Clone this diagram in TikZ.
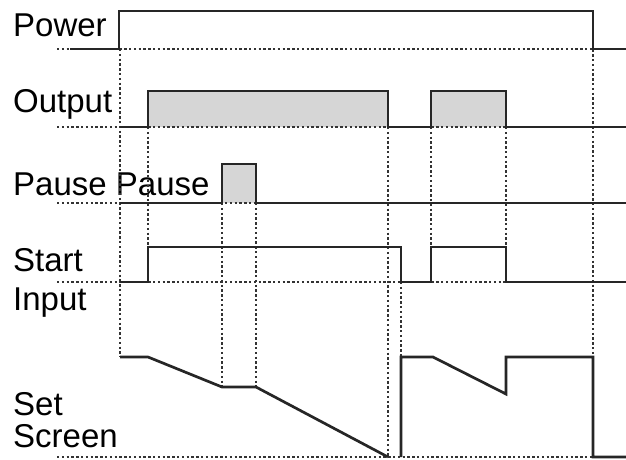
\documentclass[tikz,border=0pt]{standalone}
\usepackage{fontspec}
\setmainfont{Liberation Sans}
\begin{document}
\begin{tikzpicture}[x=1pt, y=-1pt,
        sig/.style={line width=2.7pt, black!85},
        guide/.style={line width=2.3pt, black!80, dash pattern=on 2.3pt off 2.5pt},
        pulse/.style={fill=black!16},
        lbl/.style={anchor=base west, inner sep=0pt, align=left, font=\fontsize{33}{39}\selectfont}
    ]
        \useasboundingbox (0,0) rectangle (626,459);
        % labels
        \node (power) [lbl] at (13,36) {Power};
        \node (output) [lbl] at (13,112) {Output};
        \node (pause) [lbl] at (13,195) {Pause Pause};
        \node (start) [lbl] at (13,310) {Start\\Input};
        \node (setscr) [lbl, font=\fontsize{33}{32}\selectfont] at (13,447) {Set\\Screen};
        % pulse fills
        \fill[pulse] (148,127) rectangle (388,91);
        \fill[pulse] (431,127) rectangle (506,91);
        \fill[pulse] (222,203) rectangle (256,164);
        % dotted base lines
        \foreach \y in {49,127,203,282,457}
            \draw[guide] (57,\y) -- (626,\y);
        % dotted time marks
        \draw[guide] (120,49) -- (120,357);
        \draw[guide] (148,127) -- (148,282);
        \draw[guide] (222,203) -- (222,387);
        \draw[guide] (256,203) -- (256,387);
        \draw[guide] (388,127) -- (388,457);
        \draw[guide] (401,282) -- (401,357);
        \draw[guide] (431,127) -- (431,247);
        \draw[guide] (506,127) -- (506,247);
        \draw[guide] (593,11) -- (593,357);
        % signals
        \draw[sig] (70,49) -- (119,49) -- (119,11) -- (593,11) -- (593,49) -- (626,49);
        \draw[sig] (120,127) -- (148,127) -- (148,91) -- (388,91) -- (388,127)
            -- (431,127) -- (431,91) -- (506,91) -- (506,127) -- (626,127);
        \draw[sig] (120,203) -- (222,203) -- (222,164) -- (256,164) -- (256,203) -- (626,203);
        \draw[sig] (120,282) -- (148,282) -- (148,247) -- (401,247) -- (401,282)
            -- (431,282) -- (431,247) -- (506,247) -- (506,282) -- (626,282);
        \draw[sig] (120,357) -- (148,357) -- (222,387) -- (256,387) -- (388,457);
        \draw[sig] (401,457) -- (401,357) -- (433,357) -- (506,394) -- (506,357)
            -- (593,357) -- (593,457) -- (626,457);
    \end{tikzpicture}
\end{document}
